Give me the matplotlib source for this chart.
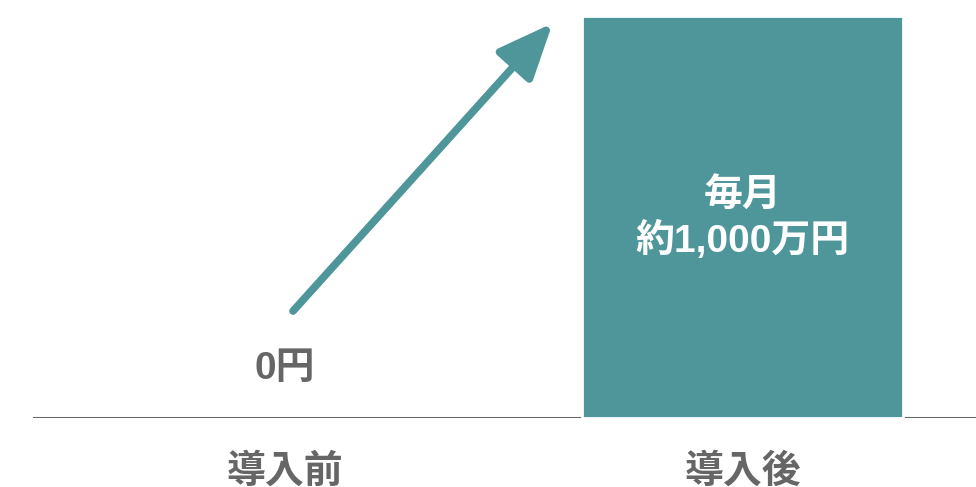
import matplotlib
matplotlib.use('Agg')
import matplotlib.pyplot as plt

# before / after introduction, monthly amount (万円)
categories = ['導入前', '導入後']
values = [0, 1000]
value_labels = ['0円', '毎月\n約1,000万円']

teal = '#4e9699'
grey = '#666666'

plt.rcParams['font.family'] = ['Liberation Sans', 'Noto Sans CJK JP']

fig = plt.figure(figsize=(9.76, 4.87), dpi=100)
ax = fig.add_axes([33 / 976, 69 / 487, 1 - 33 / 976, (418 - 16) / 487])

x = range(len(categories))
edges = ['white' if v > 0 else 'none' for v in values]
ax.bar(x, values, width=0.7, color=teal, edgecolor=edges, linewidth=2, zorder=3)
ax.axhline(0, color=grey, linewidth=2.2, zorder=2)

ax.set_xlim(-0.55, 1.51)
ax.set_ylim(0, 1000)
for s in ax.spines.values():
    s.set_visible(False)
ax.set_yticks([])
ax.set_xticks(list(x))
ax.set_xticklabels(categories, fontsize=28, fontweight='bold', color=grey)
ax.tick_params(axis='x', length=0, pad=26)

# label for the empty "before" column
ax.annotate(value_labels[0], xy=(0, values[0]), xytext=(0, 35), textcoords='offset points',
            ha='center', va='center', fontsize=28, fontweight='bold', color=grey)

# label inside the "after" bar
ax.text(1, values[1] / 2 - 5, value_labels[1], ha='center', va='center', fontsize=28,
        fontweight='bold', color='white', linespacing=1.25, zorder=4)

# rising arrow between the two columns
ax.annotate('', xy=(0.585, 982), xytext=(0.018, 266),
            arrowprops=dict(arrowstyle='-|>,head_length=3.4,head_width=1.45',
                            color=teal, lw=5.5, shrinkA=0, shrinkB=0))

plt.savefig('out.png', dpi=100)
